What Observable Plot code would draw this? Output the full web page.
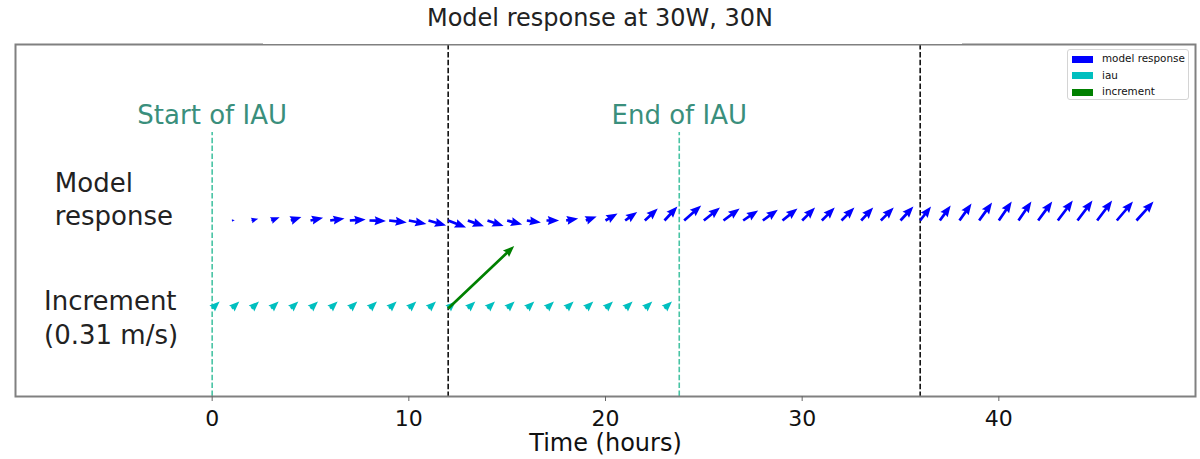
<!DOCTYPE html>
<html>
<head>
<meta charset="utf-8">
<script src="https://cdn.jsdelivr.net/npm/d3@7"></script>
<script src="https://cdn.jsdelivr.net/npm/@observablehq/plot@0.6"></script>
<style>
  body { margin: 0; background: #fff; font-family: "DejaVu Sans", sans-serif; }
  #wrap { position: relative; width: 1200px; height: 459px; }
  #chart { position: absolute; left: 0; top: 0; }
  #title-mask { position: absolute; left: 263px; width: 699px; top: 0; height: 44px; background: #fff; }
  #title { position: absolute; left: 0; width: 1200px; top: 0; height: 36px; line-height: 36px;
           text-align: center; font-size: 24px; color: #222; }
  #legend { position: absolute; left: 1067px; top: 49px; width: 122px; height: 51px;
            border: 1px solid #d4d4d4; border-radius: 3px; background: rgba(255,255,255,0.85);
            font-size: 10.4px; color: #111; box-sizing: border-box; }
  #legend .item { height: 16.5px; line-height: 16.5px; white-space: nowrap; }
  #legend .sw { display: inline-block; width: 21px; height: 7px; margin-left: 4px; margin-right: 9px; vertical-align: middle; }
</style>
</head>
<body>
<div id="wrap">
  <div id="chart"></div>
  <div id="title-mask"></div>
  <div id="title"></div>
  <div id="legend"></div>
</div>
<script>
// Hourly model response (m/s) at 30W, 30N
const modelTimes = [1, 2, 3, 4, 5, 6, 7, 8, 9, 10, 11, 12, 13, 14, 15, 16, 17, 18, 19, 20, 21, 22, 23, 24,
  25, 26, 27, 28, 29, 30, 31, 32, 33, 34, 35, 36, 37, 38, 39, 40, 41, 42, 43, 44, 45, 46, 47];
const modelU = [0.010, 0.023, 0.029, 0.036, 0.043, 0.049, 0.054, 0.056, 0.060, 0.060, 0.060, 0.061,
  0.055, 0.055, 0.051, 0.048, 0.043, 0.041, 0.037, 0.041, 0.041, 0.044, 0.044, 0.058,
  0.055, 0.055, 0.051, 0.051, 0.051, 0.044, 0.044, 0.044, 0.041, 0.044, 0.044, 0.037,
  0.037, 0.041, 0.044, 0.044, 0.044, 0.048, 0.051, 0.051, 0.051, 0.055, 0.058];
const modelV = [0.001, 0.006, 0.011, 0.012, 0.009, 0.007, 0.003, -0.002, -0.007, -0.012, -0.017, -0.024,
  -0.020, -0.019, -0.014, -0.007, 0.000, 0.007, 0.014, 0.024, 0.029, 0.041, 0.048, 0.051,
  0.044, 0.041, 0.034, 0.037, 0.041, 0.044, 0.044, 0.044, 0.044, 0.044, 0.048, 0.048,
  0.051, 0.058, 0.061, 0.065, 0.065, 0.065, 0.068, 0.068, 0.068, 0.065, 0.065];

// IAU forcing applied each hour of the window
const iauTimes = [0, 1, 2, 3, 4, 5, 6, 7, 8, 9, 10, 11, 12, 13, 14, 15, 16, 17, 18, 19, 20, 21, 22, 23];
const iauU = [0.0254, 0.0254, 0.0254, 0.0254, 0.0254, 0.0254, 0.0254, 0.0254, 0.0254, 0.0254, 0.0254, 0.0254,
  0.0254, 0.0254, 0.0254, 0.0254, 0.0254, 0.0254, 0.0254, 0.0254, 0.0254, 0.0254, 0.0254, 0.0254];
const iauV = [0.0241, 0.0241, 0.0241, 0.0241, 0.0241, 0.0241, 0.0241, 0.0241, 0.0241, 0.0241, 0.0241, 0.0241,
  0.0241, 0.0241, 0.0241, 0.0241, 0.0241, 0.0241, 0.0241, 0.0241, 0.0241, 0.0241, 0.0241, 0.0241];

// Full analysis increment (0.31 m/s) at the analysis time
const incTimes = [12];
const incU = [0.225];
const incV = [0.213];

// IAU window and reference times
const iauWindow = [0, 23.75];
const iauWindowLabels = ["Start of IAU", "End of IAU"];
const analysisTimes = [12, 36];

const rowLabels = ["Model\nresponse", "Increment\n(0.31 m/s)"];
const xTicks = [0, 10, 20, 30, 40];

const legendLabels = ["model response", "iau", "increment"];
const legendColors = ["#0000ff", "#00bfbf", "#008000"];

const titleText = "Model response at 30W, 30N";
const xLabel = "Time (hours)";

// Row positions on the hidden y scale
const MODEL_ROW = 2, INC_ROW = 1;

// Filled quiver arrow (shaft + head), drawn pointing up from the tail;
// arrows shorter than the head are scaled down as a whole.
const SW = 2.7, HW = 3.3 * SW, HL = 4.2 * SW, HAL = 3.8 * SW;
const quiver = {
  draw(ctx, l) {
    let s = 1, L = l;
    if (l < HL) { s = l / HL; L = HL; }
    const pts = [
      [-SW / 2, 0], [-SW / 2, -(L - HAL)], [-HW / 2, -(L - HL)], [0, -L],
      [HW / 2, -(L - HL)], [SW / 2, -(L - HAL)], [SW / 2, 0]
    ];
    ctx.moveTo(pts[0][0] * s, pts[0][1] * s);
    for (let i = 1; i < pts.length; i++) ctx.lineTo(pts[i][0] * s, pts[i][1] * s);
    ctx.closePath();
  }
};

const speed = (d) => Math.hypot(d.u, d.v);
const heading = (d) => Math.atan2(d.u, d.v) * 180 / Math.PI;

const modelRows = modelTimes.map((t, i) => ({t, y: MODEL_ROW, u: modelU[i], v: modelV[i]}));
const iauRows = iauTimes.map((t, i) => ({t, y: INC_ROW, u: iauU[i], v: iauV[i]}));
const incRows = incTimes.map((t, i) => ({t, y: INC_ROW, u: incU[i], v: incV[i]}));

const windowRows = iauWindow.map((t, i) => ({t, label: iauWindowLabels[i], y: 3.19}));
const rowLabelRows = [
  {t: -8, y: 2.26, label: rowLabels[0]},
  {t: -8.55, y: 0.91, label: rowLabels[1]}
];

const teal = "#48c4a4";
const tealText = "#3a8f7c";

const chart = Plot.plot({
  width: 1200,
  height: 459,
  marginLeft: 15,
  marginRight: 5,
  marginTop: 44,
  marginBottom: 63,
  style: {fontFamily: "DejaVu Sans", background: "white", color: "#111"},
  x: {domain: [-10, 50]},
  y: {domain: [0, 4], axis: null},
  length: {domain: [0, 0.31], range: [0, 91]},
  marks: [
    Plot.ruleX(iauWindow, {x: (d) => d, y1: 0, y2: 3, stroke: teal, strokeWidth: 1.6, strokeDasharray: "5.5,2.4"}),
    Plot.ruleX(analysisTimes, {x: (d) => d, stroke: "black", strokeWidth: 1.5, strokeDasharray: "5.5,2.4"}),
    Plot.vector(modelRows, {x: "t", y: "y", length: speed, rotate: heading, anchor: "start",
      shape: quiver, fill: legendColors[0], stroke: "none"}),
    Plot.vector(iauRows, {x: "t", y: "y", length: speed, rotate: heading, anchor: "start",
      shape: quiver, fill: legendColors[1], stroke: "none"}),
    Plot.vector(incRows, {x: "t", y: "y", length: speed, rotate: heading, anchor: "start",
      shape: quiver, fill: legendColors[2], stroke: "none"}),
    Plot.text(windowRows, {x: "t", y: "y", text: "label", fill: tealText, fontSize: 26}),
    Plot.text(rowLabelRows, {x: "t", y: "y", text: "label", textAnchor: "start", lineHeight: 1.3,
      fontSize: 26, fill: "#222"}),
    Plot.frame({stroke: "#808080", strokeWidth: 2}),
    Plot.axisX({ticks: xTicks, tickSize: 5, tickFormat: () => "", stroke: "#666", label: null}),
    Plot.text(xTicks, {x: (d) => d, text: (d) => String(d), frameAnchor: "bottom", lineAnchor: "top",
      dy: 14, fontSize: 22, fill: "#111"}),
    Plot.text([xLabel], {frameAnchor: "bottom", lineAnchor: "middle", dy: 47, fontSize: 24, fill: "#111"})
  ]
});
document.getElementById("chart").appendChild(chart);

document.getElementById("title").textContent = titleText;

const legend = document.getElementById("legend");
legendLabels.forEach((label, i) => {
  const item = document.createElement("div");
  item.className = "item";
  const sw = document.createElement("span");
  sw.className = "sw";
  sw.style.background = legendColors[i];
  item.appendChild(sw);
  item.appendChild(document.createTextNode(label));
  legend.appendChild(item);
});
</script>
</body>
</html>
